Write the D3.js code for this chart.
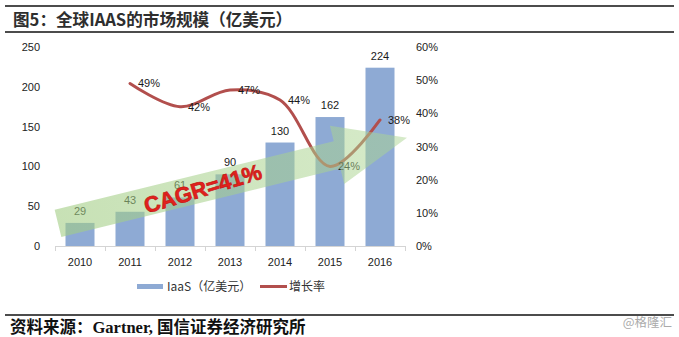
<!DOCTYPE html>
<html><head><meta charset="utf-8">
<script src="https://cdn.jsdelivr.net/npm/d3@7/dist/d3.min.js"></script>
<style>
html,body{margin:0;padding:0;background:#fff;}
svg{display:block;}
</style></head>
<body>
<svg id="chart" width="679" height="337"></svg>
<script>
// ---- data ----
const years = ["2010","2011","2012","2013","2014","2015","2016"];
const iaasValues = [29,43,61,90,130,162,224];
const growthYears = ["2011","2012","2013","2014","2015","2016"];
const growthValues = [49,42,47,44,24,38];
const leftTicks = [0,50,100,150,200,250];
const rightTicks = [0,10,20,30,40,50,60];
const titleText = "图5：全球IAAS的市场规模（亿美元）";
const sourceText = "资料来源：Gartner, 国信证券经济研究所";
const legendLabels = ["IaaS（亿美元）","增长率"];
const cagrText = "CAGR=41%";
const arrowFromValue = 28.5, arrowToValue = 136;

const svg = d3.select("#chart");
const FONT = "'Liberation Sans', Arial, 'Noto Sans CJK SC', sans-serif";

// header
svg.append("line").attr("x1",5).attr("x2",674).attr("y1",6).attr("y2",6).attr("stroke","#111").attr("stroke-width",1.6);
svg.append("line").attr("x1",5).attr("x2",674).attr("y1",32).attr("y2",32).attr("stroke","#111").attr("stroke-width",1.6);
svg.append("text").attr("x",13).attr("y",25.5).text(titleText)
  .attr("font-family","'Noto Sans CJK SC', sans-serif").attr("font-weight","bold").attr("font-size",16.6).attr("fill","#2e2e2e");

// footer
svg.append("line").attr("x1",5).attr("x2",674).attr("y1",315).attr("y2",315).attr("stroke","#111").attr("stroke-width",1.4);
svg.append("text").attr("x",10).attr("y",333).text(sourceText)
  .attr("font-family","'Liberation Serif', 'Noto Sans CJK SC', serif").attr("font-weight","bold").attr("font-size",16.5).attr("fill","#111");
svg.append("text").attr("x",672).attr("y",327).attr("text-anchor","end").text("@格隆汇")
  .attr("font-family","'Noto Sans CJK SC', sans-serif").attr("font-size",12.5).attr("fill","#aaa");

// scales
const x = d3.scaleBand().domain(years).range([55,405]).paddingInner(0.42).paddingOuter(0.21);
const yL = d3.scaleLinear().domain([0,250]).range([246,47]);
const yR = d3.scaleLinear().domain([0,60]).range([246,47]);
const step = x.step();

// axes
const gL = svg.append("g").attr("transform","translate(40,0)")
  .call(d3.axisLeft(yL).tickValues(leftTicks).tickSize(0).tickPadding(0));
const gR = svg.append("g").attr("transform","translate(416,0)")
  .call(d3.axisRight(yR).tickValues(rightTicks).tickSize(0).tickPadding(0).tickFormat(d=>d+"%"));
const gX = svg.append("g").attr("transform","translate(0,246)")
  .call(d3.axisBottom(x).tickSize(0).tickPadding(12));
[gL,gR,gX].forEach(g=>{
  g.select(".domain").remove();
  g.selectAll("text").attr("font-family",FONT).attr("font-size",11).attr("fill","#222");
});
// axis line + boundary ticks
svg.append("line").attr("x1",x.range()[0]).attr("x2",x.range()[1]).attr("y1",246.5).attr("y2",246.5).attr("stroke","#d4d4d4");
svg.append("g").selectAll("line").data(d3.range(years.length+1)).join("line")
  .attr("x1",i=>x.range()[0]+i*step+0.5).attr("x2",i=>x.range()[0]+i*step+0.5)
  .attr("y1",246).attr("y2",251).attr("stroke","#d4d4d4");

// bars
const barData = years.map((y,i)=>({year:y,value:iaasValues[i]}));
svg.append("g").selectAll("rect").data(barData).join("rect")
  .attr("x",d=>x(d.year)).attr("width",x.bandwidth())
  .attr("y",d=>yL(d.value)).attr("height",d=>yL(0)-yL(d.value))
  .attr("fill","#8eaad4");
svg.append("g").selectAll("text").data(barData).join("text")
  .attr("x",d=>x(d.year)+x.bandwidth()/2).attr("y",d=>yL(d.value)-8)
  .attr("text-anchor","middle").text(d=>d.value)
  .attr("font-family",FONT).attr("font-size",11).attr("fill","#1a1a1a");

// growth line
const lineData = growthYears.map((y,i)=>({year:y,value:growthValues[i]}));
const line = d3.line().x(d=>x(d.year)+x.bandwidth()/2).y(d=>yR(d.value)).curve(d3.curveCatmullRom.alpha(0.5));
svg.append("path").datum(lineData).attr("d",line).attr("fill","none")
  .attr("stroke","#b24f4d").attr("stroke-width",3).attr("stroke-linecap","round");
svg.append("g").selectAll("text").data(lineData).join("text")
  .attr("x",d=>x(d.year)+x.bandwidth()/2+8).attr("y",d=>yR(d.value)+4)
  .text(d=>d.value+"%")
  .attr("font-family",FONT).attr("font-size",11).attr("fill","#1a1a1a");

// CAGR arrow (translucent, on top)
const sx = x.range()[0]+3, sy = yL(arrowFromValue);
const tx = x.range()[1]+2, ty = yL(arrowToValue);
const L = Math.hypot(tx-sx, ty-sy);
const dx = (tx-sx)/L, dy = (ty-sy)/L;
const nx = -dy, ny = dx;
const bw = 14, hw = 30, hl = 72;
const bx = tx-dx*hl, by = ty-dy*hl;
const pts = [
  [sx-nx*bw, sy-ny*bw],[bx-nx*bw, by-ny*bw],[bx-nx*hw, by-ny*hw],[tx,ty],
  [bx+nx*hw, by+ny*hw],[bx+nx*bw, by+ny*bw],[sx+nx*bw, sy+ny*bw]
];
const defs = svg.append("defs");
const grad = defs.append("linearGradient").attr("id","ag").attr("gradientUnits","userSpaceOnUse")
  .attr("x1",sx).attr("y1",sy).attr("x2",tx).attr("y2",ty);
grad.append("stop").attr("offset","0").attr("stop-color","#a2cd84").attr("stop-opacity",0.6);
grad.append("stop").attr("offset","1").attr("stop-color","#acd592").attr("stop-opacity",0.5);
svg.append("path").attr("d",d3.line()(pts)+"Z").attr("fill","url(#ag)");

// CAGR text
const angle = Math.atan2(ty-sy, tx-sx)*180/Math.PI - 3;
svg.append("text").attr("transform",`translate(205,196) rotate(${angle})`)
  .attr("text-anchor","middle").text(cagrText)
  .attr("font-family",FONT).attr("font-weight","bold").attr("font-size",22).attr("fill","#e2211c")
  .attr("stroke","#c51a16").attr("stroke-width",0.7);

// legend
svg.append("rect").attr("x",137).attr("y",284).attr("width",26).attr("height",5).attr("fill","#8eaad4");
svg.append("text").attr("x",167).attr("y",290.5).text(legendLabels[0])
  .attr("font-family","'Noto Sans CJK SC', sans-serif").attr("font-size",12).attr("fill","#333");
svg.append("line").attr("x1",260).attr("x2",287).attr("y1",286.5).attr("y2",286.5).attr("stroke","#b24f4d").attr("stroke-width",3);
svg.append("text").attr("x",289).attr("y",290.5).text(legendLabels[1])
  .attr("font-family","'Noto Sans CJK SC', sans-serif").attr("font-size",12).attr("fill","#333");
</script>
</body></html>
